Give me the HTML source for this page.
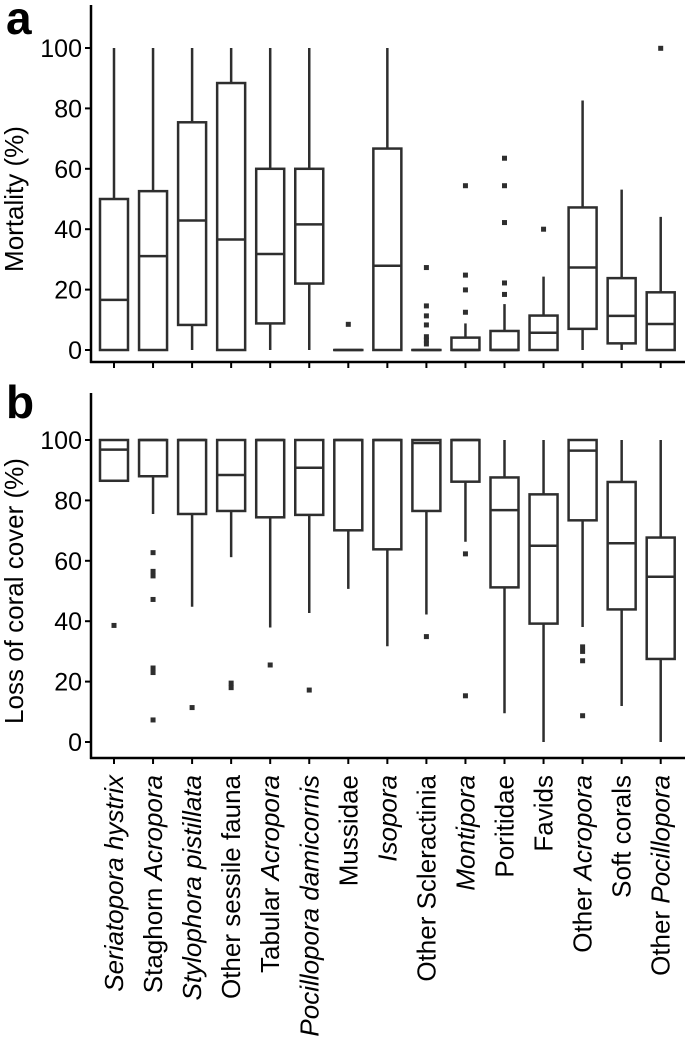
<!DOCTYPE html>
<html><head><meta charset="utf-8"><style>
html,body{margin:0;padding:0;background:#fff;}
svg{display:block;font-family:"Liberation Sans",Arial,sans-serif;}
</style></head><body>
<svg id="chart" width="685" height="1052" viewBox="0 0 685 1052" xmlns="http://www.w3.org/2000/svg"></svg>
<script>
const categories = [
  [["Seriatopora hystrix",true]],
  [["Staghorn ",false],["Acropora",true]],
  [["Stylophora pistillata",true]],
  [["Other sessile fauna",false]],
  [["Tabular ",false],["Acropora",true]],
  [["Pocillopora damicornis",true]],
  [["Mussidae",false]],
  [["Isopora",true]],
  [["Other Scleractinia",false]],
  [["Montipora",true]],
  [["Poritidae",false]],
  [["Favids",false]],
  [["Other ",false],["Acropora",true]],
  [["Soft corals",false]],
  [["Other ",false],["Pocillopora",true]]
];
// [whiskerLow, q1, median, q3, whiskerHigh]
const mortalityStats = [
  [0,0,16.6,50,100],[0,0,31.1,52.6,100],[0,8.3,42.9,75.4,100],[0,0,36.6,88.4,100],
  [0,8.8,31.8,60,100],[0,22,41.6,60,100],[0,0,0,0,0],[0,0,27.9,66.7,100],
  [0,0,0,0,0],[0,0,0,4.1,8.8],[0,0,0,6.3,15.2],[0,0,5.7,11.4,24.3],
  [0,7,27.3,47.2,82.6],[0,2.2,11.3,23.8,53.1],[0,0,8.6,19.1,44.1]
];
const mortalityOutliers = [
  [],[],[],[],[],[],[8.5],[],
  [27.3,14.6,11.3,8.3,4.4,3.3,2],
  [54.4,24.8,19.9,12.5],
  [63.5,54.4,42.2,22.2,18.4],
  [40],[],[],[99.9]
];
const lossStats = [
  [86.5,86.5,96.8,100,100],[75.5,88,100,100,100],[44.8,75.5,100,100,100],[61.2,76.5,88.4,100,100],
  [37.9,74.4,100,100,100],[42.7,75.2,90.8,100,100],[50.7,70.1,100,100,100],[31.7,63.8,100,100,100],
  [42.2,76.5,99,100,100],[66.3,86.2,100,100,100],[9.5,51.2,76.8,87.6,100],[0,39.2,65,82,100],
  [38.1,73.4,96.5,100,100],[11.9,43.9,65.8,86.1,100],[0,27.5,54.7,67.7,100]
];
const lossOutliers = [
  [38.6],[62.7,56.5,55,47.2,24.5,23,7.3],[11.4],[19.5,18],
  [25.5],[17.2],[],[],[34.9],[62.3,15.3],[],[],
  [31.5,30,26.9,8.7],[],[]
];
const yTicks = [0,20,40,60,80,100];

const NS="http://www.w3.org/2000/svg";
const svg=document.getElementById('chart');
const COL="#2e2e2e";
function mk(tag,attrs,parent){const e=document.createElementNS(NS,tag);for(const k in attrs)e.setAttribute(k,attrs[k]);(parent||svg).appendChild(e);return e;}
const xPos=i=>114+i*39.05;
const BW=28;

function panel(key,title,letter,y0,axisTop,axisBottom,stats,outs,letterY){
  const yS=v=>y0-v*3.02;
  const g=mk('g',{});
  
  
  const l=mk('text',{x:6,y:letterY,'font-size':46,'font-weight':900,fill:'#000'},g);
  l.textContent=letter;
  
  
  const ya=mk('line',{x1:91,y1:axisTop,x2:91,y2:axisBottom+1,stroke:'#000','stroke-width':2.5},g);
  
  
  const xa=mk('line',{x1:90,y1:axisBottom,x2:685,y2:axisBottom,stroke:'#000','stroke-width':2.5},g);
  
  
  yTicks.forEach(t=>{
    const tk=mk('line',{x1:85,y1:yS(t),x2:91,y2:yS(t),stroke:'#000','stroke-width':2},g);
    
    
    const tl=mk('text',{x:82,y:yS(t)+9,'font-size':25,'text-anchor':'end',fill:'#000'},g);
    tl.textContent=t;
    
    
  });
  const cy=(yS(0)+yS(100))/2;
  const tt=mk('text',{x:0,y:0,'font-size':26,'text-anchor':'middle',fill:'#000',transform:`translate(23,${cy}) rotate(-90)`},g);
  tt.textContent=title;
  
  
  stats.forEach((s,i)=>{
    const x=xPos(i);
    const xt=mk('line',{x1:x,y1:axisBottom,x2:x,y2:axisBottom+6,stroke:'#000','stroke-width':2},g);
    
    
    const bg=mk('g',{},g);
    
    
    mk('line',{x1:x,y1:yS(s[4]),x2:x,y2:yS(s[3]),stroke:COL,'stroke-width':2.5},bg);
    mk('line',{x1:x,y1:yS(s[1]),x2:x,y2:yS(s[0]),stroke:COL,'stroke-width':2.5},bg);
    mk('rect',{x:x-BW/2,y:yS(s[3]),width:BW,height:Math.max(0.01,yS(s[1])-yS(s[3])),fill:'#fff',stroke:COL,'stroke-width':2.5},bg);
    mk('line',{x1:x-BW/2,y1:yS(s[2]),x2:x+BW/2,y2:yS(s[2]),stroke:COL,'stroke-width':2.5},bg);
    outs[i].forEach(o=>{
      const p=mk('rect',{x:x-2.5,y:yS(o)-2.5,width:5,height:5,fill:COL},bg);
      
      
    });
  });
}
panel('mortality','Mortality (%)','a',350,5,362,mortalityStats,mortalityOutliers,34);
panel('loss','Loss of coral cover (%)','b',742,393,758,lossStats,lossOutliers,418);

categories.forEach((parts,i)=>{
  const t=mk('text',{x:0,y:0,'font-size':26,'text-anchor':'end',fill:'#000',transform:`translate(${xPos(i)+9},775) rotate(-90)`});
  
  
  parts.forEach(p=>{
    const s=mk('tspan',{},t);
    if(p[1]) s.setAttribute('font-style','italic');
    s.textContent=p[0];
  });
});
</script>
</body></html>
